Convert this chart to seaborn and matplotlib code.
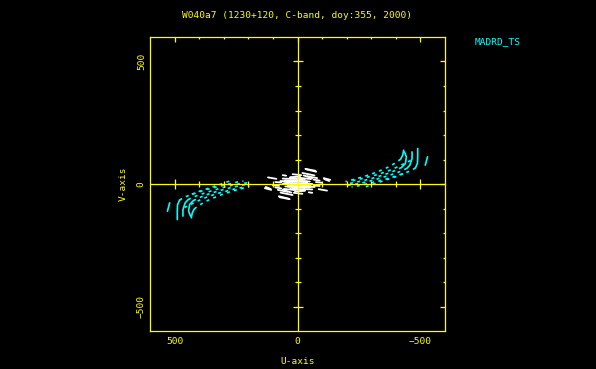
import numpy as np
import pandas as pd
import matplotlib
matplotlib.use("Agg")
import matplotlib.pyplot as plt
import seaborn as sns

TITLE = "W040a7 (1230+120, C-band, doy:355, 2000)"
ANTENNA = "MADRD_TS"
X_LABEL = "U-axis"
Y_LABEL = "V-axis"
MAJOR_TICKS = [-500, 0, 500]
MINOR_TICKS = [-400, -300, -200, -100, 100, 200, 300, 400]

# uv tracks of the baseline (one half; the conjugate half is drawn at (-u,-v))
# outer, continuous part of each track
tip_a_u = [-489, -489, -488, -480]
tip_a_v = [145, 111, 85, 66]
tip_b_u = [-466, -466, -457, -445]
tip_b_v = [131, 104, 77, 64]
tip_c_u = [-435, -443, -439, -424]
tip_c_v = [131, 111, 84, 68]
tip_f_u = [-432, -428, -420]
tip_f_v = [138, 118, 102]
tip_e_u = [-529, -520]
tip_e_v = [111, 77]
# inner, broken part of each track
in_a_u = [-480, -465, -445, -420, -390, -360, -330, -300, -270, -245, -220]
in_a_v = [66, 56, 48, 39, 29, 20, 12, 5, -2, -8, -12]
in_b_u = [-445, -425, -400, -375, -350, -320, -290, -260, -230, -200]
in_b_v = [64, 54, 44, 36, 28, 19, 11, 4, -2, -5]
in_c_u = [-424, -400, -370, -340, -310, -280, -250, -220, -195]
in_c_v = [68, 56, 44, 34, 25, 17, 10, 4, 0]
in_f_u = [-420, -405, -385, -365, -340, -315, -290, -265, -240, -215, -195]
in_f_v = [102, 90, 78, 67, 56, 46, 37, 29, 22, 15, 10]
in_g_u = [-460, -440, -415, -390, -360, -330, -300, -270, -240, -210]
in_g_v = [96, 86, 74, 62, 50, 40, 32, 24, 17, 11]
in_d_u = [-430, -400, -370, -340, -310, -285, -260]
in_d_v = [42, 30, 20, 10, 0, -9, -16]

# short baselines near the centre (segments: u1, v1, u2, v2), one half
seg_u1 = [120, 60, -35, -20, -25, -109, 133, 80, 73, 50, 45, 40, 30, 55, 20,
          60, 70, 55, 40, 30, 90, -65, 100]
seg_v1 = [27, 36, 60, 45, 35, 20, -17, -24, -54, 15, 5, -10, 25, -20, 40,
          22, 12, 3, -8, 28, 8, 18, -5]
seg_u2 = [86, 46, -76, -69, -60, -129, 107, 40, 32, -40, -45, -30, -30, 10, -15,
          -20, -50, -60, -55, -10, 65, -90, 75]
seg_v2 = [21, 34, 50, 35, 24, 12, -24, -32, -62, 10, -3, -15, 20, -25, 36,
          20, 10, 0, -10, 30, 6, 14, -8]

YELLOW = "#ffff00"
CYAN = "#00ffff"

sns.set_style("dark", {"axes.facecolor": "black", "figure.facecolor": "black"})
plt.rcParams["font.family"] = ["DejaVu Sans Mono"]

fig = plt.figure(figsize=(5.96, 3.69), dpi=100, facecolor="black")
ax = fig.add_axes([150 / 596, 1 - 331 / 369, 295 / 596, 294 / 369])
ax.set_facecolor("black")


def track_frame(us, vs, prefix):
    rows = []
    for i, (u, v) in enumerate(zip(us, vs)):
        for k in range(len(u)):
            rows.append({"u": u[k], "v": v[k], "id": f"{prefix}{i}"})
            rows.append({"u": -u[k], "v": -v[k], "id": f"{prefix}{i}c"})
    return pd.DataFrame(rows)


tips = track_frame([tip_a_u, tip_b_u, tip_c_u, tip_f_u, tip_e_u],
                   [tip_a_v, tip_b_v, tip_c_v, tip_f_v, tip_e_v], "t")
inner = track_frame([in_a_u, in_b_u, in_c_u, in_f_u, in_g_u, in_d_u],
                    [in_a_v, in_b_v, in_c_v, in_f_v, in_g_v, in_d_v], "i")
segs = track_frame([[a, b] for a, b in zip(seg_u1, seg_u2)],
                   [[a, b] for a, b in zip(seg_v1, seg_v2)], "s")

sns.lineplot(data=tips, x="u", y="v", units="id", estimator=None, sort=False,
             color=CYAN, lw=1.2, ax=ax, legend=False)
sns.lineplot(data=inner, x="u", y="v", units="id", estimator=None, sort=False,
             color=CYAN, lw=1.2, linestyle=(0, (1.8, 2.6)), ax=ax, legend=False)
sns.lineplot(data=segs, x="u", y="v", units="id", estimator=None, sort=False,
             color="white", lw=1.3, ax=ax, legend=False)

# central axis lines with ticks
ax.axhline(0, color=YELLOW, lw=0.9, zorder=5)
ax.axvline(0, color=YELLOW, lw=0.9, zorder=5)
minor = np.array(MINOR_TICKS)
major = np.array([t for t in MAJOR_TICKS if t != 0])
ax.plot(minor, np.zeros_like(minor), ls="none", marker="|", ms=4, mew=0.9, color=YELLOW, zorder=5)
ax.plot(major, np.zeros_like(major), ls="none", marker="|", ms=6.5, mew=0.9, color=YELLOW, zorder=5)
ax.plot(np.zeros_like(minor), minor, ls="none", marker="_", ms=4, mew=0.9, color=YELLOW, zorder=5)
ax.plot(np.zeros_like(major), major, ls="none", marker="_", ms=6.5, mew=0.9, color=YELLOW, zorder=5)

ax.set_xlim(600, -600)
ax.set_ylim(-600, 600)
ax.grid(False)
for s in ax.spines.values():
    s.set_visible(True)
    s.set_color(YELLOW)
    s.set_linewidth(0.9)

ax.set_xticks(MAJOR_TICKS)
ax.set_yticks(MAJOR_TICKS)
ax.set_xticks(MINOR_TICKS, minor=True)
ax.set_yticks(MINOR_TICKS, minor=True)
ax.set_xticklabels([str(t).replace("-", "\u2212") for t in MAJOR_TICKS])
ax.set_yticklabels([str(t).replace("-", "\u2212") for t in MAJOR_TICKS], rotation=90, va="center")
ax.tick_params(which="both", direction="in", top=True, right=True, color=YELLOW,
               labelcolor=YELLOW, labelsize=6.8, width=0.9)
ax.tick_params(which="major", length=3.3, pad=4)
ax.tick_params(which="minor", length=1.6)
ax.tick_params(axis="y", pad=3)

ax.set_xlabel(X_LABEL, color=YELLOW, fontsize=6.8)
ax.set_ylabel(Y_LABEL, color=YELLOW, fontsize=6.8)
ax.xaxis.set_label_coords(0.5, -0.088)
ax.yaxis.set_label_coords(-0.075, 0.5)

fig.text(297.5 / 596, 1 - 16 / 369, TITLE, color=YELLOW, fontsize=6.8, ha="center", va="center")
fig.text(475 / 596, 1 - 42 / 369, ANTENNA, color=CYAN, fontsize=6.8, ha="left", va="center")

fig.savefig("out.png", dpi=100, facecolor="black")
